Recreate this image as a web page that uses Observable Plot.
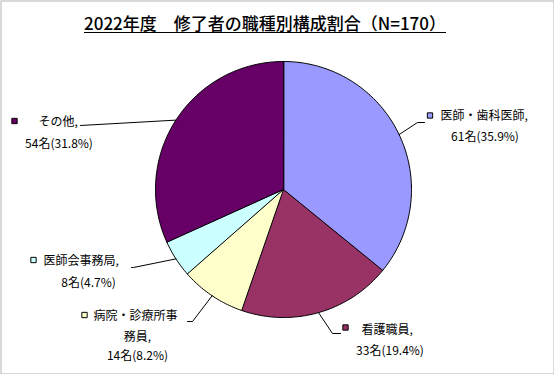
<!DOCTYPE html>
<html>
<head>
<meta charset="utf-8">
<script src="https://cdn.jsdelivr.net/npm/d3@7"></script>
<script src="https://cdn.jsdelivr.net/npm/@observablehq/plot@0.6"></script>
<style>
  html, body { margin: 0; padding: 0; background: #fff; }
  #chart svg { display: block; }
</style>
</head>
<body>
<div id="chart"></div>
<script>
// ---- data ----
const titleText = "2022年度　修了者の職種別構成割合（N=170）";
const categories = ["医師・歯科医師", "看護職員", "病院・診療所事務員", "医師会事務局", "その他"];
const counts = [61, 33, 14, 8, 54];
const percents = ["35.9%", "19.4%", "8.2%", "4.7%", "31.8%"];
const labelHeads = [["医師・歯科医師,"], ["看護職員,"], ["病院・診療所事", "務員,"], ["医師会事務局,"], ["その他,"]];
const colors = ["#9999FF", "#993366", "#FFFFCC", "#CCFFFF", "#660066"];

// ---- layout (pixels) ----
const W = 554, H = 374;
const CX = 283, CY = 189, R = 128;
const labelLayout = [
  {key: [429.5, 115], head: [440, 116], rest: [484.5, 135], leader: [[417, 122], [424, 122]]},
  {key: [345, 327], head: [361, 330], rest: [389.5, 349], leader: [[332, 333], [340, 333]]},
  {key: [84, 314.5], head: [93, 316], rest: [137, 335], leader: [[192, 321], [187, 321]]},
  {key: [33, 259.5], head: [43, 261], rest: [88, 281], leader: [[133, 267], [131, 267]]},
  {key: [14, 120.5], head: [38, 122], rest: [58.5, 142], leader: [[80, 125]]}
];

const arcs = d3.pie().sort(null).value(d => d)(counts);
const px = (a, r = R) => CX + r * Math.sin(a);
const py = (a, r = R) => CY - r * Math.cos(a);

// slice polygons
const slicePts = [];
arcs.forEach((a, i) => {
  slicePts.push({cat: categories[i], color: colors[i], x: CX, y: CY});
  const n = Math.max(2, Math.ceil((a.endAngle - a.startAngle) / (Math.PI / 180)));
  for (let k = 0; k <= n; k++) {
    const t = a.startAngle + (a.endAngle - a.startAngle) * k / n;
    slicePts.push({cat: categories[i], color: colors[i], x: px(t), y: py(t)});
  }
});

// leader lines
const leaderPts = [];
arcs.forEach((a, i) => {
  const mid = (a.startAngle + a.endAngle) / 2;
  leaderPts.push({cat: categories[i], x: px(mid), y: py(mid)});
  labelLayout[i].leader.forEach(([x, y]) => leaderPts.push({cat: categories[i], x, y}));
});

// label texts
const keys = categories.map((c, i) => ({cat: c, color: colors[i], x: labelLayout[i].key[0], y: labelLayout[i].key[1]}));
const heads = categories.map((c, i) => ({text: labelHeads[i][0], x: labelLayout[i].head[0], y: labelLayout[i].head[1]}));
const rests = categories.map((c, i) => ({
  text: [...labelHeads[i].slice(1), `${counts[i]}名(${percents[i]})`].join("\n"),
  x: labelLayout[i].rest[0], y: labelLayout[i].rest[1], lines: labelHeads[i].length
}));
rests.forEach(d => { if (d.lines > 1) d.y += 9; });

const font = "'Noto Sans CJK JP', 'Noto Sans', sans-serif";

const chart = Plot.plot({
  width: W, height: H,
  margin: 0,
  x: {domain: [0, W], range: [0, W], axis: null},
  y: {domain: [0, H], range: [0, H], axis: null},
  color: {type: "identity"},
  style: {fontFamily: font, background: "#fff"},
  marks: [
    Plot.frame({stroke: "#b4b4b4", inset: 0.5}),
    Plot.line(slicePts, {x: "x", y: "y", z: "cat", fill: "color", stroke: "#000", strokeWidth: 1, curve: "linear-closed"}),
    Plot.line(leaderPts, {x: "x", y: "y", z: "cat", stroke: "#000", strokeWidth: 1}),
    Plot.dot(keys, {x: "x", y: "y", fill: "color", stroke: "#000", strokeWidth: 1, symbol: "square", r: 3}),
    Plot.text(heads, {x: "x", y: "y", text: "text", textAnchor: "start", lineAnchor: "middle", fontSize: 12, fill: "#000"}),
    Plot.text(rests, {x: "x", y: "y", text: "text", textAnchor: "middle", lineAnchor: "middle", lineHeight: 1.55, fontSize: 12, fill: "#000"}),
    Plot.text([titleText], {x: () => 264.5, y: () => 24, text: d => d, textAnchor: "middle", lineAnchor: "middle", fontSize: 17, fontWeight: 500, fill: "#000"})
  ]
});
document.getElementById("chart").append(chart);

// underline the title (measured after layout, in SVG coordinates)
const titleNode = Array.from(chart.querySelectorAll("text")).find(t => t.textContent === titleText);
if (titleNode) {
  const svgBox = chart.getBoundingClientRect();
  const tb = titleNode.getBoundingClientRect();
  d3.select(chart).append("line")
    .attr("x1", tb.left - svgBox.left).attr("x2", tb.right - svgBox.left)
    .attr("y1", 32.5).attr("y2", 32.5)
    .attr("stroke", "#000").attr("stroke-width", 1.2);
}
</script>
</body>
</html>
